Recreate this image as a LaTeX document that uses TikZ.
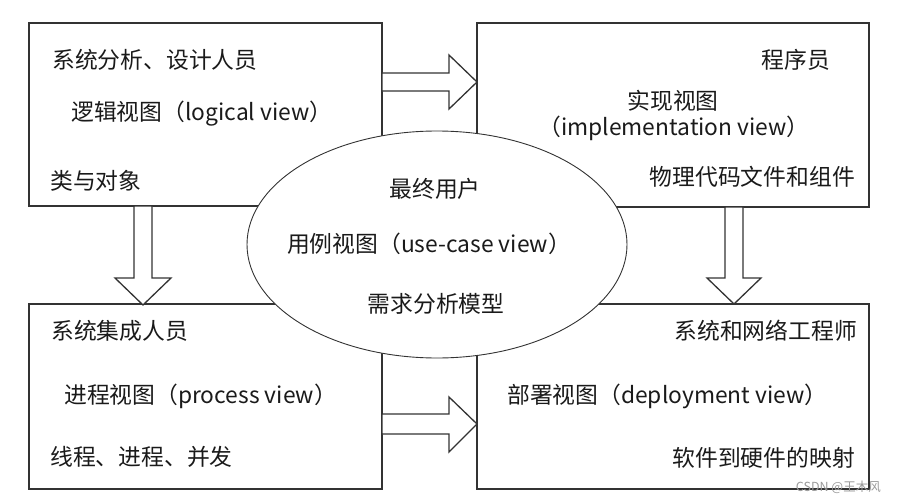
\documentclass[tikz,border=0pt]{standalone}
\usepackage{fontspec}
\setmainfont{Noto Sans CJK SC}
\usetikzlibrary{shapes.geometric}
\definecolor{linegray}{HTML}{333333}
\definecolor{txt}{HTML}{1A1A1A}
\definecolor{wm}{HTML}{9A9A9A}
\begin{document}
\begin{tikzpicture}[x=1pt,y=-1pt,
  box/.style={draw=linegray, line width=1.5pt, outer sep=0pt, inner sep=0pt},
  blockarrow/.style={draw=linegray, line width=1.3pt, fill=white, line join=miter},
  lbl/.style={font=\fontsize{22.8}{26}\selectfont, inner sep=0pt, text=txt}]
\useasboundingbox (0,0) rectangle (897,503);
% boxes
\node[box, minimum width=353pt, minimum height=183pt] (tl) at (205.5,114.5) {};
\node[box, minimum width=392pt, minimum height=184pt] (tr) at (673,115) {};
\node[box, minimum width=353pt, minimum height=185pt] (bl) at (205.5,396.5) {};
\node[box, minimum width=392pt, minimum height=185pt] (br) at (673,396.5) {};
% block arrows
\draw[blockarrow] (382,73) -- (449,73) -- (449,55) -- (477,82) -- (449,109) -- (449,91) -- (382,91) -- cycle;
\draw[blockarrow] (134,206) -- (134,278) -- (115,278) -- (143,305) -- (171,278) -- (152,278) -- (152,206) -- cycle;
\draw[blockarrow] (725,207) -- (725,278) -- (707,278) -- (734,304) -- (761,278) -- (743,278) -- (743,207) -- cycle;
\draw[blockarrow] (382,414) -- (449,414) -- (449,397) -- (477,424) -- (449,452) -- (449,434) -- (382,434) -- cycle;
% ellipse
\node[ellipse, draw=linegray, line width=0.9pt, fill=white, minimum width=380pt, minimum height=227pt, inner sep=0pt] (uc) at (437,244.5) {};
% top-left texts
\node[lbl, anchor=west] (tl1) at (52,60) {系统分析、设计人员};
\node[lbl, anchor=west] (tl2) at (71,114) {逻辑视图（logical view）};
\node[lbl, anchor=west] (tl3) at (50,181) {类与对象};
% top-right texts
\node[lbl, anchor=east] (tr1) at (830,60) {程序员};
\node[lbl] (tr2) at (673,101) {实现视图};
\node[lbl] (tr3) at (674,128) {（implementation view）};
\node[lbl, anchor=east] (tr4) at (855,177) {物理代码文件和组件};
% ellipse texts
\node[lbl] (uc1) at (435,189) {最终用户};
\node[lbl] (uc2) at (429,244) {用例视图（use-case view）};
\node[lbl] (uc3) at (436,304) {需求分析模型};
% bottom-left texts
\node[lbl, anchor=west] (bl1) at (51,331) {系统集成人员};
\node[lbl, anchor=west] (bl2) at (64,396) {进程视图（process view）};
\node[lbl, anchor=west] (bl3) at (50,457) {线程、进程、并发};
% bottom-right texts
\node[lbl, anchor=east] (br1) at (857,331) {系统和网络工程师};
\node[lbl, anchor=west] (br2) at (507,396) {部署视图（deployment view）};
\node[lbl, anchor=east] (br3) at (855,458) {软件到硬件的映射};
% watermark
\node[font=\fontsize{12.5}{14}\selectfont, text=wm, anchor=east, inner sep=0pt] (wm) at (881,487) {CSDN @王木风};
\end{tikzpicture}
\end{document}
